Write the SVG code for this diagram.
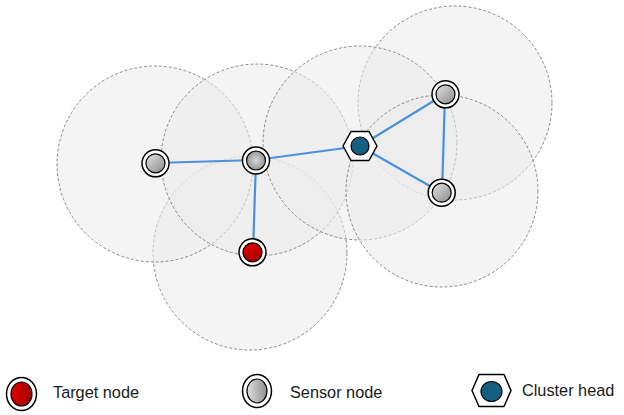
<svg xmlns="http://www.w3.org/2000/svg" width="624" height="415" viewBox="0 0 624 415">
<style>
.range{fill:#ebebeb;fill-opacity:0.55;stroke:#6e6e6e;stroke-width:0.8;stroke-dasharray:3 2}
.edge{stroke:#4a90dc;stroke-width:2.2;fill:none;stroke-linecap:round}
.ring{fill:#fff;stroke:#000;stroke-width:1.5}
.core{stroke:#000;stroke-width:1.2}
.lbl{font-family:"Liberation Sans",Arial,sans-serif;font-size:16.3px;fill:#1a1a1a}
</style>
<defs>
<linearGradient id="gs" x1="0" y1="0" x2="1" y2="1">
<stop offset="0" stop-color="#e2e2e2"/><stop offset="1" stop-color="#8a8a8a"/>
</linearGradient>
<linearGradient id="gsl" x1="0" y1="0" x2="1" y2="0">
<stop offset="0" stop-color="#e0e0e0"/><stop offset="1" stop-color="#8e8e8e"/>
</linearGradient>
<radialGradient id="gr" cx="0.5" cy="0.5" r="0.5">
<stop offset="0" stop-color="#d8d8d8"/><stop offset="1" stop-color="#959595"/>
</radialGradient>
<linearGradient id="gt" x1="0" y1="0" x2="1" y2="1">
<stop offset="0" stop-color="#e80000"/><stop offset="1" stop-color="#a00000"/>
</linearGradient>
<linearGradient id="gtl" x1="0" y1="0" x2="1" y2="0">
<stop offset="0" stop-color="#e00000"/><stop offset="1" stop-color="#a00000"/>
</linearGradient>
</defs>
<g id="ranges">
<circle class="range" cx="250" cy="253" r="97"/>
<circle class="range" cx="155" cy="164" r="98"/>
<circle class="range" cx="257" cy="160" r="96"/>
<circle class="range" cx="455" cy="103" r="97"/>
<circle class="range" cx="360" cy="143" r="97"/>
<circle class="range" cx="442" cy="191" r="96"/>
</g>
<g id="connectors">
<line class="edge" x1="155" y1="163" x2="256" y2="160"/>
<line class="edge" x1="256" y1="160" x2="253" y2="252"/>
<line class="edge" x1="256" y1="160" x2="360" y2="146"/>
<line class="edge" x1="360" y1="146" x2="445" y2="94"/>
<line class="edge" x1="360" y1="146" x2="442" y2="193"/>
<line class="edge" x1="445" y1="94" x2="442" y2="193"/>
</g>
<g id="sensor-a">
<circle class="ring" cx="155.5" cy="163.3" r="13.5"/>
<circle class="core" cx="155.5" cy="163.3" r="9.5" fill="url(#gs)"/>
</g>
<g id="sensor-b">
<circle class="ring" cx="256" cy="160.5" r="13.5"/>
<circle class="core" cx="256" cy="160.5" r="9.5" fill="url(#gr)"/>
</g>
<g id="target">
<circle class="ring" cx="252.5" cy="252.3" r="13.5"/>
<circle class="core" cx="252.5" cy="252.3" r="9.5" fill="url(#gt)"/>
</g>
<g id="sensor-c">
<circle class="ring" cx="445.5" cy="94.3" r="13.5"/>
<circle class="core" cx="445.5" cy="94.3" r="9.5" fill="url(#gs)"/>
</g>
<g id="sensor-d">
<circle class="ring" cx="441.7" cy="192.7" r="13.5"/>
<circle class="core" cx="441.7" cy="192.7" r="9.5" fill="url(#gs)"/>
</g>
<g id="cluster-head">
<polygon points="343,146 351,131.5 369,131.5 377,146 369,160.5 351,160.5" fill="#fff" stroke="#000" stroke-width="1.5" stroke-linejoin="round"/>
<circle class="core" cx="360" cy="146" r="9" fill="#156082"/>
</g>
<g id="legend-target">
<ellipse class="ring" cx="21.5" cy="394" rx="15" ry="16.5"/>
<ellipse class="core" cx="21.5" cy="394" rx="10.5" ry="12" fill="url(#gtl)"/>
<text class="lbl" x="53" y="397.5">Target node</text>
</g>
<g id="legend-sensor">
<ellipse class="ring" cx="257" cy="391" rx="14.5" ry="16.5"/>
<ellipse class="core" cx="257" cy="391" rx="10" ry="12" fill="url(#gsl)"/>
<text class="lbl" x="290" y="397.5">Sensor node</text>
</g>
<g id="legend-cluster">
<polygon points="472,390.5 479,374.5 504,374.5 511,390.5 504,406.5 479,406.5" fill="#fff" stroke="#000" stroke-width="1.5" stroke-linejoin="round"/>
<ellipse class="core" cx="491.5" cy="391.5" rx="10.5" ry="10" fill="#156082"/>
<text class="lbl" x="522" y="396">Cluster head</text>
</g>
</svg>
